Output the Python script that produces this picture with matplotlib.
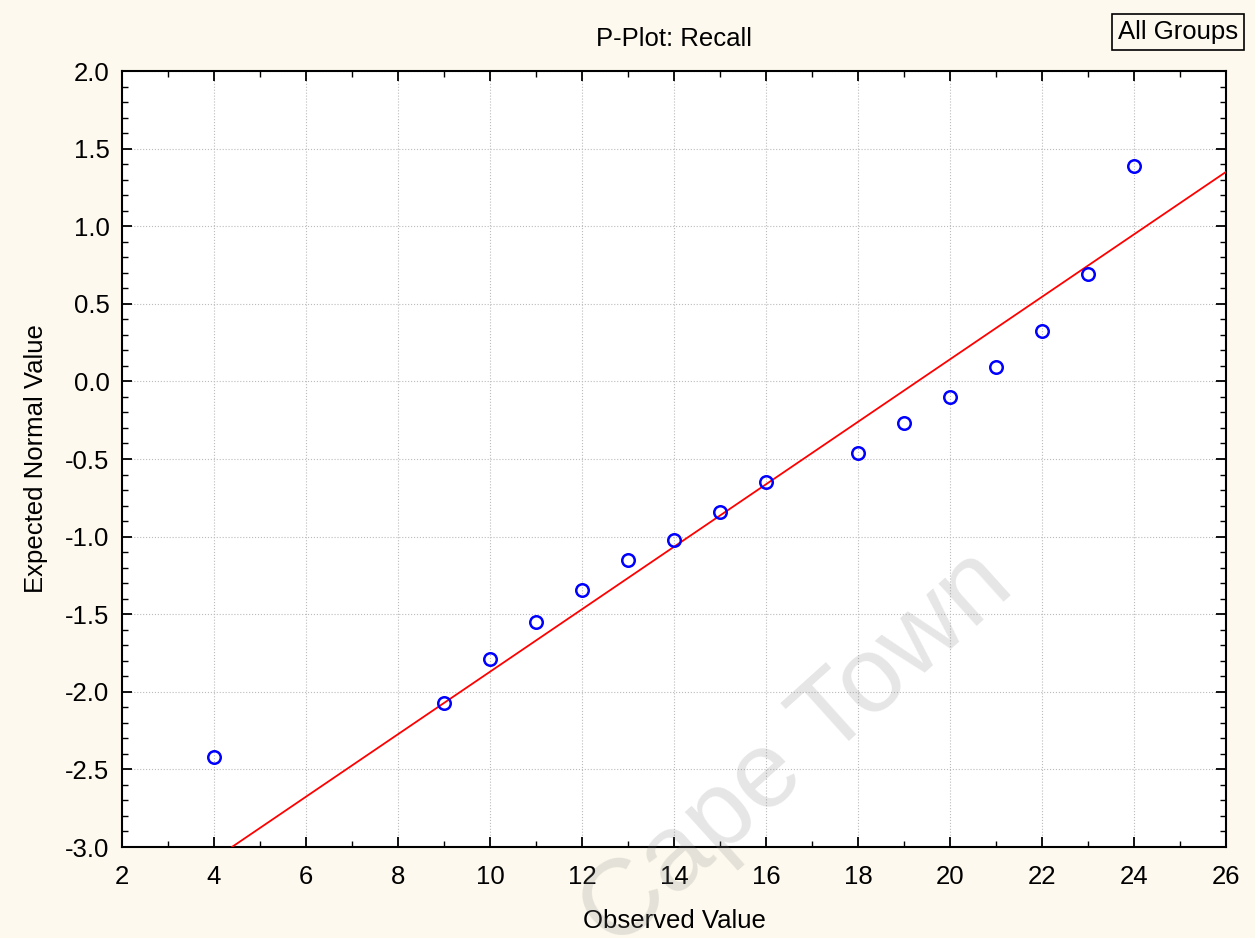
import numpy as np
import matplotlib
matplotlib.use("Agg")
import matplotlib.pyplot as plt
from matplotlib.ticker import MultipleLocator, FormatStrFormatter

observed = [4, 9, 10, 11, 12, 13, 14, 15, 16, 18, 19, 20, 21, 22, 23, 24]
expected = [-2.42, -2.07, -1.79, -1.55, -1.345, -1.15, -1.02, -0.84,
            -0.65, -0.46, -0.265, -0.10, 0.09, 0.325, 0.69, 1.39]

# fitted reference line (end points)
line_x = [4.39, 26.0]
line_y = [-3.0, 1.35]

plt.rcParams['font.family'] = ['Liberation Sans', 'DejaVu Sans']

bg = '#fdf9ee'
fs = 18.5
fig = plt.figure(figsize=(12.55, 9.38), dpi=100, facecolor=bg)
ax = fig.add_axes([122/1255, 1 - 847/938, 1104/1255, 776/938])
ax.set_facecolor('white')

ax.plot(line_x, line_y, color='red', lw=1.3, zorder=3)
ax.plot(observed, expected, ls='none', marker='o', ms=9, mfc='none',
        mec='blue', mew=1.8, zorder=4)

ax.set_xlim(2, 26)
ax.set_ylim(-3, 2)
ax.xaxis.set_major_locator(MultipleLocator(2))
ax.xaxis.set_minor_locator(MultipleLocator(1))
ax.yaxis.set_major_locator(MultipleLocator(0.5))
ax.yaxis.set_minor_locator(MultipleLocator(0.1))
ax.yaxis.set_major_formatter(FormatStrFormatter('%.1f'))

ax.tick_params(which='both', direction='in', top=True, right=True,
               labelsize=fs, colors='black')
ax.tick_params(which='major', length=7, width=1.3)
ax.tick_params(which='minor', length=4, width=1.0)
ax.tick_params(axis='x', pad=13)
ax.tick_params(axis='y', pad=9)
for s in ax.spines.values():
    s.set_linewidth(1.5)

ax.grid(True, which='major', color='#bbbbbb', ls=':', lw=0.8)

ax.set_xlabel('Observed Value', fontsize=fs, labelpad=14)
ax.set_ylabel('Expected Normal Value', fontsize=fs, labelpad=12)
ax.set_title('P-Plot: Recall', fontsize=fs, pad=18)

fig.text(1178/1255, 1 - 32/938, 'All Groups', ha='center', va='center',
         fontsize=fs,
         bbox=dict(boxstyle='square,pad=0.25', fc=bg, ec='black', lw=1.2))

# watermark
fig.text(0.635, 0.20, 'Cape Town', rotation=42, fontsize=78, color='#808080',
         alpha=0.2, ha='center', va='center', zorder=10)

fig.savefig('out.png', dpi=100, facecolor=bg)
